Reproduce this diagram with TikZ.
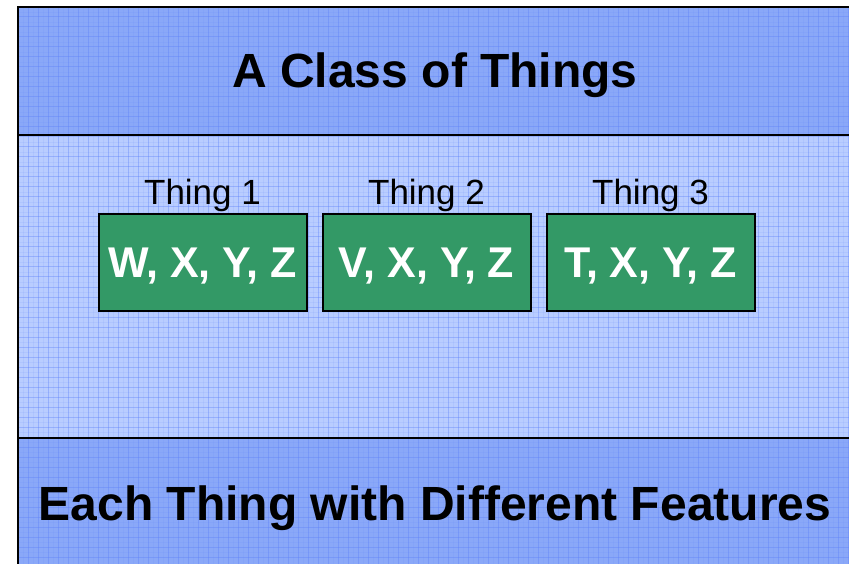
\documentclass[tikz,border=0pt]{standalone}
\usepackage{fontspec}
\setmainfont{Liberation Sans}
\usetikzlibrary{positioning}
\definecolor{bandDark}{RGB}{138,168,248}
\definecolor{bandLight}{RGB}{185,205,255}
\definecolor{gridBlue}{RGB}{95,130,250}
\definecolor{boxGreen}{RGB}{51,153,102}

\begin{document}
\begin{tikzpicture}[x=1pt, y=-1pt,
    thingbox/.style={draw=black, line width=2pt, fill=boxGreen, text=white,
        minimum width=208pt, minimum height=97pt, inner sep=0pt, outer sep=0pt,
        text height=30pt, text depth=0pt,
        font=\fontsize{43pt}{43pt}\selectfont\bfseries},
    thinglabel/.style={inner sep=0pt, font=\fontsize{35pt}{35pt}\selectfont},
    bandtitle/.style={inner sep=0pt, font=\fontsize{48pt}{48pt}\selectfont\bfseries},
    gridline/.style={gridBlue, line width=1pt, opacity=0.4},
    subgridline/.style={gridBlue, line width=0.6pt, opacity=0.1}]
    % 画布大小：849 x 564
    \useasboundingbox (0, 0) rectangle (849, 564);
    \fill[white] (0, 0) rectangle (849, 564);

    % 三个色带：上、中、下
    \fill[bandDark] (18, 7) rectangle (849, 135);
    \fill[bandLight] (18, 135) rectangle (849, 438);
    \fill[bandDark] (18, 438) rectangle (849, 564);

    % 网格线，间距约10px
    \foreach \gx in {28, 38, ..., 848} {
        \draw[gridline] (\gx, 7) -- (\gx, 564);
        \draw[subgridline] (\gx-5, 7) -- (\gx-5, 564);
    }
    \foreach \gy in {17, 27, ..., 563} {
        \draw[gridline] (18, \gy) -- (849, \gy);
        \draw[subgridline] (18, \gy-5) -- (849, \gy-5);
    }

    % 边框与分隔线
    \draw[line width=2pt, black] (18, 564) -- (18, 7) -- (849, 7);
    \draw[line width=2pt, black] (18, 135) -- (849, 135);
    \draw[line width=2pt, black] (18, 438) -- (849, 438);

    % 标题
    \node[bandtitle, anchor=base] (title) at (435, 88) {A Class of Things};

    % 三个绿色框
    \node[thingbox] (b1) at (202.5, 262.5) {W, X, Y, Z};
    \node[thingbox, right=16pt of b1] (b2) {V, X, Y, Z};
    \node[thingbox, right=16pt of b2] (b3) {T, X, Y, Z};

    % 框上方的名称
    \node[thinglabel, above=9pt of b1.north, anchor=base] (l1) {Thing 1};
    \node[thinglabel, above=9pt of b2.north, anchor=base] (l2) {Thing 2};
    \node[thinglabel, above=9pt of b3.north, anchor=base] (l3) {Thing 3};

    % 底部说明
    \node[bandtitle, anchor=base] (caption) at (435, 520) {Each Thing with Different Features};
\end{tikzpicture}
\end{document}
